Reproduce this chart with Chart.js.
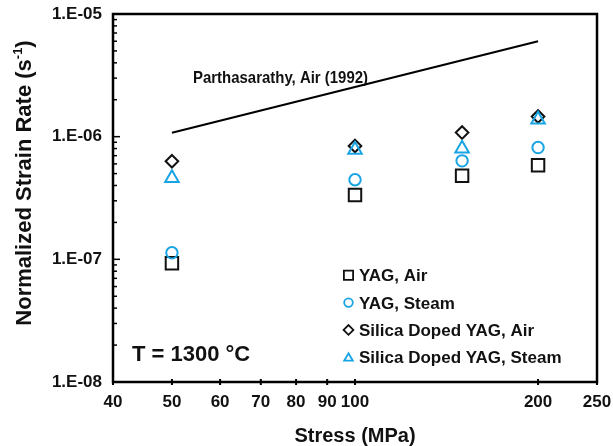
<!DOCTYPE html>
<html>
<head>
<meta charset="utf-8">
<script src="https://cdn.jsdelivr.net/npm/chart.js@4.4.1/dist/chart.umd.min.js"></script>
<style>
  html, body { margin: 0; padding: 0; background: #fff; }
  #wrap { width: 613px; height: 446px; }
</style>
</head>
<body>
<div id="wrap"><canvas id="c" width="613" height="446"></canvas></div>
<script>
// Creep data: normalized strain rate (1/s) versus applied stress (MPa), T = 1300 °C
const stressMPa   = [50, 100, 150, 200];
const yagAir      = [9.3e-8, 3.35e-7, 4.8e-7, 5.85e-7];
const yagSteam    = [1.13e-7, 4.45e-7, 6.35e-7, 8.15e-7];
const silicaAir   = [6.3e-7, 8.4e-7, 1.08e-6, 1.46e-6];
const silicaSteam = [4.6e-7, 7.8e-7, 8.0e-7, 1.38e-6];

// Literature reference line
const refStress = [50, 200];
const refRate   = [1.077e-6, 5.99e-6];

// Axis ticks and labels
const xTickValues = [40, 50, 60, 70, 80, 90, 100, 200, 250];
const yTickValues = [1e-8, 1e-7, 1e-6, 1e-5];
const seriesNames = ['YAG, Air', 'YAG, Steam', 'Silica Doped YAG, Air', 'Silica Doped YAG, Steam'];
const refLabel  = 'Parthasarathy, Air (1992)';
const tempLabel = 'T = 1300 °C';
const xTitle    = 'Stress (MPa)';
const yTitleMain = 'Normalized Strain Rate (s';
const yTitleSup  = '-1';
const yTitleEnd  = ')';

const FONT  = '"Liberation Sans", Arial, Helvetica, sans-serif';
const BLACK = '#111';
const CYAN  = '#19a4e4';

const pts = (xs, ys) => xs.map((v, i) => ({ x: v, y: ys[i] }));

function markerSet(label, data, style, color, radius, order) {
  return {
    label, data: pts(stressMPa, data),
    pointStyle: style, pointRadius: radius, pointHoverRadius: radius,
    pointBorderWidth: 2, borderColor: color, pointBorderColor: color,
    backgroundColor: 'rgba(0,0,0,0)', pointBackgroundColor: 'rgba(0,0,0,0)',
    showLine: false, order
  };
}

const datasets = [
  markerSet(seriesNames[0], yagAir, 'rect', BLACK, 8.8, 4),
  markerSet(seriesNames[1], yagSteam, 'circle', CYAN, 5.7, 3),
  markerSet(seriesNames[2], silicaAir, 'rectRot', BLACK, 6.3, 2),
  markerSet(seriesNames[3], silicaSteam, 'triangle', CYAN, 7.8, 1),
  {
    label: refLabel, data: pts(refStress, refRate),
    showLine: true, borderColor: '#000', borderWidth: 2,
    pointRadius: 0, fill: false, order: 5
  }
];

function drawMarker(ctx, style, radius, x, y) {
  const opts = { pointStyle: style, radius, rotation: 0, borderWidth: 1.8 };
  if (Chart.helpers && Chart.helpers.drawPoint) {
    Chart.helpers.drawPoint(ctx, opts, x, y);
    return;
  }
  ctx.beginPath();
  ctx.arc(x, y, radius, 0, Math.PI * 2);
  ctx.stroke();
}

// Remove the extra label overflow margins so the plot frame keeps its size
function noScalePadding(s) {
  s.paddingTop = 0; s.paddingBottom = 0; s.paddingLeft = 0; s.paddingRight = 0;
}

// Frame, inward log ticks, annotations, legend and axis titles
const decor = {
  id: 'decor',
  afterDraw(chart) {
    const { ctx, chartArea: a, scales: { x, y } } = chart;
    ctx.save();
    ctx.strokeStyle = '#000';

    ctx.lineWidth = 1.5;
    for (let e = -8; e < -5; e++) {
      for (let m = 1; m <= 9; m++) {
        const py = y.getPixelForValue(m * Math.pow(10, e));
        const len = m === 1 ? 7 : 4;
        ctx.beginPath(); ctx.moveTo(a.left, py); ctx.lineTo(a.left + len, py); ctx.stroke();
      }
    }

    ctx.lineWidth = 2;
    xTickValues.forEach(v => {
      const px = x.getPixelForValue(v);
      ctx.beginPath(); ctx.moveTo(px, a.bottom - 3); ctx.lineTo(px, a.bottom + 3); ctx.stroke();
    });

    ctx.lineWidth = 2.5;
    ctx.strokeRect(a.left, a.top, a.right - a.left, a.bottom - a.top);

    ctx.fillStyle = BLACK;
    ctx.textBaseline = 'alphabetic';
    ctx.textAlign = 'left';

    // reference line label
    ctx.save();
    ctx.font = `bold 17px ${FONT}`;
    const rw = ctx.measureText(refLabel).width;
    ctx.translate(a.left + 80, 83);
    ctx.scale(175 / rw, 1);
    ctx.fillText(refLabel, 0, 0);
    ctx.restore();

    // temperature
    ctx.font = `bold 22px ${FONT}`;
    ctx.fillText(tempLabel, a.left + 19, 361);

    // legend
    const styles = [['rect', 6.5, BLACK], ['circle', 4.3, CYAN], ['rectRot', 4.9, BLACK], ['triangle', 5, CYAN]];
    const rowY = [275.3, 302.6, 329.9, 357.2];
    ctx.font = `bold 17px ${FONT}`;
    seriesNames.forEach((name, i) => {
      const [st, r, col] = styles[i];
      ctx.strokeStyle = col;
      ctx.fillStyle = 'rgba(0,0,0,0)';
      ctx.lineWidth = 1.8;
      drawMarker(ctx, st, r, 348.5, rowY[i] + (st === 'triangle' ? 1 : 0));
      ctx.fillStyle = BLACK;
      ctx.fillText(name, 359, rowY[i] + 6.1);
    });

    // x axis title
    ctx.textAlign = 'center';
    ctx.font = `bold 20px ${FONT}`;
    ctx.fillText(xTitle, (a.left + a.right) / 2, 441.5);

    // y axis title with superscript
    ctx.save();
    ctx.translate(22.5, 183);
    ctx.rotate(-Math.PI / 2);
    ctx.textAlign = 'left';
    const mainFont = `bold 22px ${FONT}`;
    const supFont = `bold 13px ${FONT}`;
    ctx.font = mainFont; const w1 = ctx.measureText(yTitleMain).width; const w3 = ctx.measureText(yTitleEnd).width;
    ctx.font = supFont;  const w2 = ctx.measureText(yTitleSup).width;
    let sx = -(w1 + w2 + w3) / 2;
    ctx.font = mainFont; ctx.fillText(yTitleMain, sx, 8); sx += w1;
    ctx.font = supFont;  ctx.fillText(yTitleSup, sx, -1); sx += w2;
    ctx.font = mainFont; ctx.fillText(yTitleEnd, sx, 8);
    ctx.restore();

    ctx.restore();
  }
};

new Chart(document.getElementById('c'), {
  type: 'scatter',
  data: { datasets },
  options: {
    responsive: false,
    devicePixelRatio: 1,
    animation: false,
    layout: { padding: { left: 0, right: 16, top: 14, bottom: 0 } },
    plugins: { legend: { display: false }, tooltip: { enabled: false } },
    scales: {
      x: {
        type: 'logarithmic', min: 40, max: 250,
        afterBuildTicks: s => { s.ticks = xTickValues.map(value => ({ value })); },
        afterFit: s => { s.height = 64; noScalePadding(s); },
        ticks: {
          callback: v => String(v), autoSkip: false, maxRotation: 0, minRotation: 0,
          padding: 10, color: BLACK, font: { family: FONT, size: 17, weight: 'bold' }
        },
        grid: { display: false, drawTicks: false },
        border: { display: false }
      },
      y: {
        type: 'logarithmic', min: 1e-8, max: 1e-5,
        afterBuildTicks: s => { s.ticks = yTickValues.map(value => ({ value })); },
        afterFit: s => { s.width = 113; noScalePadding(s); },
        ticks: {
          callback: v => {
            const e = Math.round(Math.log10(v));
            return '1.E' + (e < 0 ? '-' : '+') + String(Math.abs(e)).padStart(2, '0');
          },
          autoSkip: false, padding: 11, color: BLACK,
          font: { family: FONT, size: 17, weight: 'bold' }
        },
        grid: { display: false, drawTicks: false },
        border: { display: false }
      }
    }
  },
  plugins: [decor]
});
</script>
</body>
</html>
